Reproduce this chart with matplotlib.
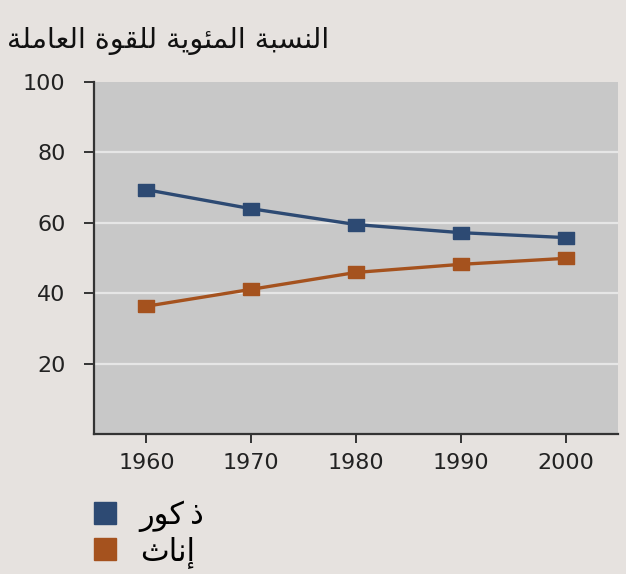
import matplotlib
matplotlib.use("Agg")
import matplotlib.pyplot as plt
from matplotlib.lines import Line2D

# ---- data ----
years = [1960, 1970, 1980, 1990, 2000]
male = [69.4, 64.0, 59.5, 57.2, 55.8]
female = [36.3, 41.1, 45.9, 48.2, 49.9]
yticks = [20, 40, 60, 80, 100]

# Arabic text (logical order, pre-shaped with presentation forms, then reversed for LTR rendering)
title_logical = ("\uFE8D\uFEDF\uFEE8\uFEB4\uFE92\uFE94" + " " +
                 "\uFE8D\uFEDF\uFEE4\uFE8C\uFEEE\uFEF3\uFE94" + " " +
                 "\uFEDF\uFEE0\uFED8\uFEEE\uFE93" + " " +
                 "\uFE8D\uFEDF\uFECC\uFE8E\uFEE3\uFEE0\uFE94")  # النسبة المئوية للقوة العاملة
male_logical = "\uFEAB\u2009\uFEDB\uFEEE\uFEAD"      # ذكور
female_logical = "\uFE87\uFEE7\uFE8E\uFE99"     # إناث

title_txt = title_logical[::-1]
male_txt = male_logical[::-1]
female_txt = female_logical[::-1]

blue = "#2d4a73"
orange = "#a5521e"
rect = [(-1, -0.8), (1, -0.8), (1, 0.8), (-1, 0.8), (-1, -0.8)]

fig = plt.figure(figsize=(6.26, 5.74), dpi=100)
fig.patch.set_facecolor("#e6e2df")
ax = fig.add_axes([94/626, 1-434/574, (618-94)/626, (434-82)/574])
ax.set_facecolor("#c8c8c8")

ax.set_xlim(1955, 2005)
ax.set_ylim(0, 100)

for v in [20, 40, 60, 80]:
    ax.axhline(v, color="#e6e6e6", lw=1.6, zorder=1)

ax.plot(years, male, color=blue, lw=2.4, marker=rect, markersize=11, zorder=3)
ax.plot(years, female, color=orange, lw=2.4, marker=rect, markersize=11, zorder=3)

ax.set_xticks(years)
ax.set_yticks(yticks)
ax.tick_params(axis="y", direction="out", length=7.5, width=1.4, color="#333333",
               labelsize=16, pad=13, labelcolor="#222222")
ax.tick_params(axis="x", direction="out", length=6.5, width=1.4, color="#333333",
               labelsize=16, pad=7, labelcolor="#222222")
for s in ["top", "right"]:
    ax.spines[s].set_visible(False)
for s in ["left", "bottom"]:
    ax.spines[s].set_color("#333333")
    ax.spines[s].set_linewidth(1.6)

fig.text(7/626, 1-41/574, title_txt, fontsize=20.5, ha="left", va="center",
         family="DejaVu Sans", color="#111111")

handles = [Line2D([], [], ls="none", marker="s", markersize=16, color=blue),
           Line2D([], [], ls="none", marker="s", markersize=16, color=orange)]
fig.legend(handles, [male_txt, female_txt], loc="upper left",
           bbox_to_anchor=(68/626, 1-479/574), frameon=False, fontsize=22,
           handlelength=1.0, handletextpad=0.65, labelspacing=0.12, borderpad=0.2)

fig.savefig("out.png", dpi=100, facecolor=fig.get_facecolor())
